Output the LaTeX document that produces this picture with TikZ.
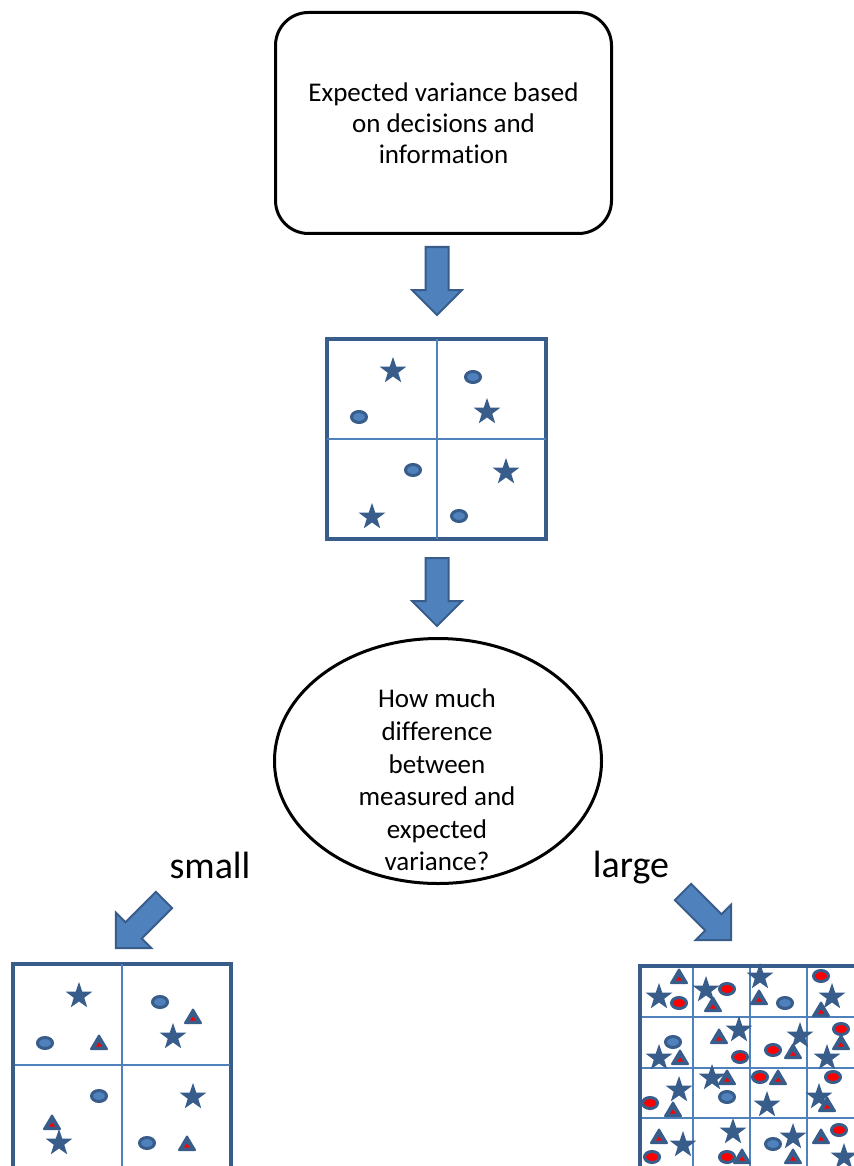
\documentclass[tikz,border=0pt]{standalone}
\usepackage{fontspec}
\setmainfont{Carlito}[Ligatures={NoCommon}]
\usetikzlibrary{shapes.geometric,calc}
\definecolor{dk}{HTML}{385D8A}
\definecolor{lb}{HTML}{4F81BD}
\definecolor{rd}{HTML}{FF0000}
\begin{document}
\begin{tikzpicture}[x=0.75pt,y=-0.75pt,
  blockarrow/.pic={\filldraw[fill=lb,draw=dk,line width=1.5pt,line join=miter]
     (0,-11.5) -- (43,-11.5) -- (43,-25) -- (68,0) -- (43,25) -- (43,11.5) -- (0,11.5) -- cycle;},
  mstar/.pic={\fill[dk] (-90:14) -- (-54:5.5) -- (-18:14) -- (18:5.5) -- (54:14) -- (90:5.5)
     -- (126:14) -- (162:5.5) -- (198:14) -- (234:5.5) -- cycle;},
  bdot/.pic={\filldraw[fill=lb,draw=dk,line width=2.25pt] (0,0) ellipse [x radius=7.5,y radius=5.5];},
  rdot/.pic={\filldraw[fill=rd,draw=dk,line width=2.25pt] (0,0) ellipse [x radius=7.5,y radius=5.5];},
  tri/.pic={\filldraw[fill=dk,draw=dk,line width=1.5pt,line join=round] (0,-7.5) -- (8,6) -- (-8,6) -- cycle;
     \fill[rd] (0,-0.5) -- (3,3.5) -- (-3,3.5) -- cycle;},
  gridbox/.style={draw=dk,line width=3pt,inner sep=0pt},
  gl/.style={draw=lb,line width=1.5pt},
  txt/.style={font=\fontsize{20.25}{23.25}\selectfont,align=center,inner sep=0pt},
  big/.style={font=\fontsize{28.5}{30}\selectfont,inner sep=0pt,anchor=base}
]
\useasboundingbox (0,0) rectangle (853,1166);
\fill[white] (0,0) rectangle (853,1166);

% top rounded box
\node[draw,line width=2.25pt,rounded corners=24.75pt,minimum width=252pt,minimum height=165.75pt,txt]
  (top) at (443.5,123) {Expected variance based\\on decisions and\\information};

\pic[rotate=-90] at (437,247) {blockarrow};

% first grid
\node[gridbox,minimum width=164.25pt,minimum height=150pt] (g1) at (436.5,439) {};
\draw[gl,shorten <=1.5pt,shorten >=1.5pt] (g1.north) -- (g1.south);
\draw[gl,shorten <=1.5pt,shorten >=1.5pt] (g1.west) -- (g1.east);
\foreach \p in {(393,371),(487,412),(506,472),(372,517)} \pic at \p {mstar};
\foreach \p in {(359,417),(473,377),(413,470),(459,516)} \pic at \p {bdot};

\pic[rotate=-90] at (437,558) {blockarrow};

% question ellipse
\node[draw,ellipse,line width=2.25pt,minimum width=245.25pt,minimum height=183.75pt,inner sep=0pt] (q) at (438,761) {};
\node[txt,font=\fontsize{20.25}{24.4}\selectfont] (qt) at (437,780) {How much\\difference\\between\\measured and\\expected\\variance?};

\node[big] (small) at (210,878) {small};
\node[big] (large) at (631,877) {large};

\pic[rotate=-135] at (164,900) {blockarrow};
\pic[rotate=-45] at (683,892) {blockarrow};

% small grid
\node[gridbox,minimum width=163.5pt,minimum height=157.9pt] (gS) at (122,1069.75) {};
\draw[gl,shorten <=1.5pt] (gS.north) -- (gS.south);
\draw[gl] (14.5,1065) -- (229.5,1065);
\foreach \p in {(79,996),(173,1037),(193,1097),(59,1143)} \pic at \p {mstar};
\foreach \p in {(160,1002),(45,1043),(99,1096),(147,1143)} \pic at \p {bdot};
\foreach \p in {(193,1017),(99,1043),(52,1123),(187,1144)} \pic at \p {tri};

% large grid
\node[gridbox,minimum width=172.5pt,minimum height=156.75pt] (gL) at (755,1070.5) {};
\foreach \x in {693,750,807} \draw[gl] (\x,967.5) -- (\x,1170);
\foreach \y in {1017,1068,1118} \draw[gl] (641.5,\y) -- (860,\y);
\foreach \p in {(659,997),(706,990),(760,977),(832,997),(659,1058),(739,1030),(800,1036),(827,1058),
  (679,1090),(712,1078),(767,1105),(819,1097),(683,1145),(733,1132),(793,1137),(844,1157)} \pic at \p {mstar};
\foreach \p in {(679,1003),(727,989),(821,976),(740,1057),(773,1050),(841,1029),(650,1103),(760,1077),
  (833,1077),(652,1157),(727,1157),(839,1130)} \pic at \p {rdot};
\foreach \p in {(785,1003),(673,1042),(727,1097),(773,1144)} \pic at \p {bdot};
\foreach \p in {(679,977),(713,1005),(759,998),(821,1010),(680,1058),(719,1037),(793,1052),(841,1043),
  (673,1110),(727,1078),(778,1078),(827,1105),(659,1137),(742,1157),(793,1157),(821,1137)} \pic at \p {tri};
\end{tikzpicture}
\end{document}
